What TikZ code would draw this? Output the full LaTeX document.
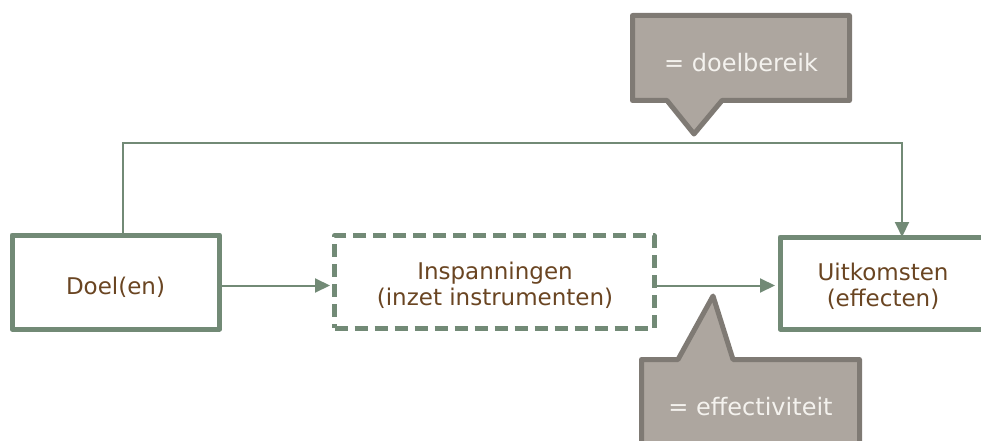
\documentclass[tikz,border=0pt]{standalone}
\usepackage{fontspec}
\setmainfont{DejaVu Sans}
\usetikzlibrary{arrows.meta}
\definecolor{grn}{HTML}{728A76}
\definecolor{brn}{HTML}{6A4522}
\definecolor{cfill}{HTML}{ADA69F}
\definecolor{cline}{HTML}{7F7A74}
\definecolor{ctext}{HTML}{F4F2EE}
\tikzset{
  box/.style={draw=grn, line width=5pt, fill=white, line join=round, inner sep=0pt},
  dbox/.style={box, dash pattern=on 13pt off 7pt},
  btxt/.style={text=brn, align=center, inner sep=0pt, font=\fontsize{23}{26}\selectfont},
  conn/.style={draw=grn, line width=2pt, -{Triangle[length=15pt,width=14pt]}},
  callout/.style={draw=cline, fill=cfill, line width=5pt, line join=round},
  ctxt/.style={text=ctext, font=\fontsize{24}{26}\selectfont, inner sep=0pt},
}
\begin{document}
\begin{tikzpicture}[x=1pt,y=-1pt]
\useasboundingbox (0,0) rectangle (981,441);
\clip (0,0) rectangle (981,441);
% boxes
\node[box, minimum width=207.5pt, minimum height=94pt] (doel) at (115.75,282) {};
\node[dbox, minimum width=319.5pt, minimum height=92.5pt] (insp) at (494.25,282) {};
\node[box, minimum width=206pt, minimum height=92pt] (uit) at (883,283) {};
\node[btxt] (doelt) at (115.5,287) {Doel(en)};
\node[btxt] (inspt) at (495,285.5) {Inspanningen\\(inzet instrumenten)};
\node[btxt] (uitt) at (883,286.5) {Uitkomsten\\(effecten)};
% connectors
\coordinate (ds) at ([xshift=7.25pt]doel.north);
\coordinate (ue) at ([xshift=19pt]uit.north);
\draw[conn] (ds) -- (ds |- 0,143) -| ([yshift=-2.5pt]ue);
\draw[conn] ([yshift=-3.5pt]doel.east) -- ([yshift=-3.5pt,xshift=-2pt]doel.east -| insp.west);
\draw[conn] ([yshift=-3.5pt]insp.east) -- ([yshift=-3.5pt,xshift=-2.5pt]insp.east -| uit.west);
% top callout
\draw[callout] (632.5,15.5) -- (849.5,15.5) -- (849.5,100.5) -- (722,100.5) -- (694,134) -- (667,100.5) -- (632.5,100.5) -- cycle;
\node[ctxt] (t1) at (741,63) {= doelbereik};
% bottom callout
\draw[callout] (641.5,359.5) -- (678,359.5) -- (713,296) -- (733,359.5) -- (859.5,359.5) -- (859.5,470) -- (641.5,470) -- cycle;
\node[ctxt] (t2) at (750.5,407) {= effectiviteit};
\end{tikzpicture}
\end{document}
